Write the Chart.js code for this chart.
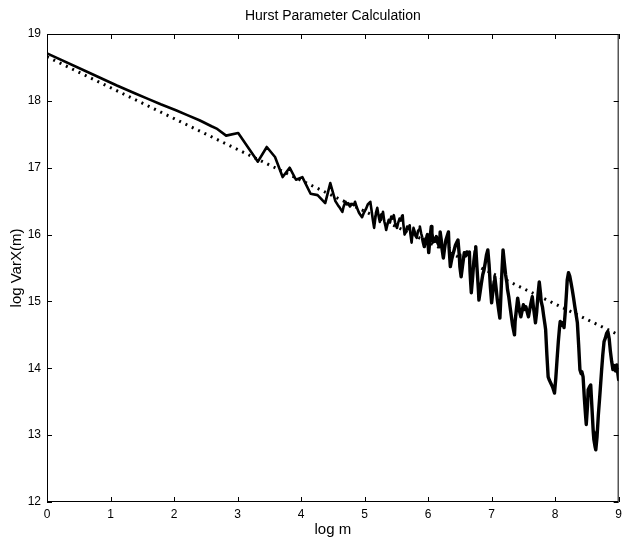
<!DOCTYPE html>
<html>
<head>
<meta charset="utf-8">
<script src="https://cdn.jsdelivr.net/npm/chart.js@4/dist/chart.umd.min.js"></script>
<style>
  html, body { margin: 0; padding: 0; background: #fff; }
  #wrap { width: 627px; height: 542px; }
</style>
</head>
<body>
<div id="wrap"><canvas id="hurst" width="627" height="542"></canvas></div>
<script>
// log m vs log of the aggregated variance
const logM = [
  0, 0.69, 1.10, 1.39, 1.59, 1.79, 2.03, 2.20, 2.40, 2.59, 2.68, 2.82, 3.01,
  3.32, 3.46, 3.59, 3.71, 3.82, 3.92, 4.02, 4.15, 4.26, 4.38, 4.46,
  4.54, 4.58, 4.61, 4.65, 4.67, 4.70, 4.72, 4.74, 4.77, 4.80, 4.83, 4.85,
  4.88, 4.91, 4.93, 4.96, 4.99, 5.02, 5.05, 5.07, 5.09, 5.11, 5.13, 5.15,
  5.17, 5.18, 5.20, 5.22, 5.24, 5.26, 5.27, 5.29, 5.31, 5.33, 5.34, 5.36,
  5.38, 5.40, 5.42, 5.44, 5.46, 5.48, 5.50, 5.51, 5.53, 5.55, 5.57, 5.59,
  5.60, 5.61, 5.63, 5.65, 5.67, 5.69, 5.71, 5.72, 5.74, 5.75, 5.77, 5.79,
  5.80, 5.82, 5.84, 5.86, 5.87, 5.89, 5.91, 5.92, 5.94, 5.96, 5.98, 5.99,
  6.00, 6.01, 6.03, 6.05, 6.06, 6.08, 6.10, 6.11, 6.13, 6.15, 6.17, 6.18,
  6.19, 6.21, 6.22, 6.24, 6.26, 6.28, 6.30, 6.32, 6.33, 6.35, 6.37, 6.39,
  6.41, 6.43, 6.45, 6.47, 6.49, 6.50, 6.52, 6.54, 6.56, 6.57, 6.59, 6.61,
  6.63, 6.65, 6.66, 6.67, 6.68, 6.70, 6.72, 6.74, 6.75, 6.77, 6.79, 6.80,
  6.82, 6.84, 6.86, 6.88, 6.90, 6.92, 6.94, 6.96, 6.98, 7.00, 7.02, 7.04,
  7.05, 7.07, 7.09, 7.11, 7.13, 7.14, 7.16, 7.18, 7.20, 7.22, 7.24, 7.25,
  7.27, 7.29, 7.31, 7.33, 7.36, 7.37, 7.39, 7.41, 7.43, 7.44, 7.46, 7.48,
  7.50, 7.52, 7.54, 7.56, 7.58, 7.60, 7.62, 7.64, 7.66, 7.68, 7.69, 7.71,
  7.73, 7.75, 7.77, 7.78, 7.80, 7.82, 7.84, 7.85, 7.87, 7.89, 7.91, 7.93,
  7.96, 7.98, 7.99, 8.01, 8.03, 8.05, 8.07, 8.08, 8.10, 8.12, 8.14, 8.16,
  8.18, 8.19, 8.21, 8.23, 8.25, 8.27, 8.29, 8.31, 8.33, 8.35, 8.37, 8.39,
  8.41, 8.42, 8.44, 8.46, 8.48, 8.49, 8.51, 8.52, 8.54, 8.56, 8.58, 8.60,
  8.61, 8.63, 8.64, 8.66, 8.68, 8.70, 8.71, 8.73, 8.75, 8.77, 8.79, 8.81,
  8.83, 8.85, 8.87, 8.89, 8.91, 8.93, 8.95, 8.97, 8.99, 9.00
];
const logVar = [
  18.71, 18.41, 18.23, 18.11, 18.03, 17.95, 17.86, 17.79, 17.71, 17.62, 17.58, 17.48, 17.52,
  17.09, 17.31, 17.16, 16.86, 17.00, 16.82, 16.86, 16.61, 16.59, 16.47, 16.77,
  16.50, 16.44, 16.40, 16.34, 16.42, 16.49, 16.45, 16.47, 16.42, 16.46, 16.44, 16.49,
  16.40, 16.33, 16.30, 16.26, 16.33, 16.38, 16.45, 16.47, 16.49, 16.36, 16.22, 16.10,
  16.25, 16.33, 16.40, 16.28, 16.19, 16.30, 16.26, 16.34, 16.20, 16.12, 16.07, 16.15,
  16.22, 16.18, 16.27, 16.24, 16.29, 16.18, 16.12, 16.10, 16.18, 16.24, 16.21, 16.28,
  16.29, 16.16, 16.00, 16.05, 16.12, 16.08, 16.14, 16.02, 15.88, 15.98, 16.10, 16.04,
  15.98, 15.95, 16.05, 16.08, 16.12, 16.02, 15.95, 15.90, 15.82, 15.92, 15.97, 16.00,
  15.85, 15.73, 15.95, 16.12, 16.02, 15.89, 15.94, 15.90, 15.97, 15.88, 15.84, 15.82,
  16.04, 15.90, 15.78, 15.65, 15.80, 15.92, 15.98, 16.04, 15.80, 15.52, 15.62, 15.70,
  15.77, 15.84, 15.88, 15.92, 15.70, 15.52, 15.37, 15.52, 15.66, 15.73, 15.68, 15.74,
  15.70, 15.74, 15.45, 15.28, 15.13, 15.35, 15.60, 15.75, 15.82, 15.50, 15.20, 15.02,
  15.15, 15.28, 15.40, 15.47, 15.58, 15.70, 15.77, 15.55, 15.22, 14.98, 15.15, 15.30,
  15.37, 15.20, 15.02, 14.88, 14.75, 14.95, 15.40, 15.77, 15.58, 15.40, 15.28, 15.18,
  15.07, 14.92, 14.78, 14.64, 14.50, 14.70, 14.88, 15.05, 14.92, 14.85, 14.77, 14.86,
  14.95, 14.88, 14.92, 14.84, 14.77, 14.88, 14.98, 15.07, 14.90, 14.76, 14.68, 14.85,
  15.10, 15.29, 15.12, 15.00, 14.92, 14.78, 14.65, 14.58, 14.20, 13.87, 13.82, 13.78,
  13.72, 13.66, 13.63, 13.85, 14.13, 14.40, 14.62, 14.70, 14.64, 14.68, 14.61, 14.85,
  15.15, 15.32, 15.43, 15.38, 15.28, 15.17, 15.05, 14.92, 14.80, 14.68, 14.35, 13.98,
  13.92, 13.95, 13.87, 13.55, 13.28, 13.16, 13.45, 13.68, 13.72, 13.75, 13.40, 13.05,
  12.93, 12.82, 12.78, 12.98, 13.30, 13.55, 13.68, 13.95, 14.20, 14.40, 14.45, 14.52,
  14.55, 14.45, 14.25, 14.10, 13.98, 14.04, 13.96, 14.05, 13.90, 13.83
];

// least-squares fit line end points
const fitX = [0, 9];
const fitY = [18.66, 14.50];

const xTicks = [0, 1, 2, 3, 4, 5, 6, 7, 8, 9];
const yTicks = [12, 13, 14, 15, 16, 17, 18, 19];

const FONT = '"Liberation Sans", Arial, Helvetica, sans-serif';

// frame box with inward ticks on all four sides, plus the title
const matlabBox = {
  id: 'matlabBox',
  afterDraw(chart) {
    const ctx = chart.ctx;
    const a = chart.chartArea;
    const xs = chart.scales.x, ys = chart.scales.y;
    const len = 5;
    ctx.save();
    ctx.strokeStyle = '#000';
    ctx.lineWidth = 1;
    ctx.strokeRect(a.left + 0.5, a.top + 0.5, a.right - a.left - 1, a.bottom - a.top - 1);
    ctx.beginPath();
    xTicks.forEach(v => {
      const px = Math.round(xs.getPixelForValue(v)) + 0.5;
      ctx.moveTo(px, a.bottom); ctx.lineTo(px, a.bottom - len);
      ctx.moveTo(px, a.top); ctx.lineTo(px, a.top + len);
    });
    yTicks.forEach(v => {
      const py = Math.round(ys.getPixelForValue(v)) + 0.5;
      ctx.moveTo(a.left, py); ctx.lineTo(a.left + len, py);
      ctx.moveTo(a.right, py); ctx.lineTo(a.right - len, py);
    });
    ctx.stroke();
    ctx.fillStyle = '#000';
    ctx.font = '14px ' + FONT;
    ctx.textAlign = 'center';
    ctx.textBaseline = 'middle';
    ctx.fillText('Hurst Parameter Calculation', (a.left + a.right) / 2, 16);
    ctx.restore();
  }
};

const ctx = document.getElementById('hurst').getContext('2d');
new Chart(ctx, {
  type: 'line',
  data: {
    datasets: [
      {
        label: 'log VarX(m)',
        data: logM.map((x, i) => ({ x: x, y: logVar[i] })),
        borderColor: '#000',
        borderWidth: 2.6,
        // the noisy tail of the curve is drawn a little heavier
        segment: { borderWidth: s => (s.p0.parsed.x >= 5.9 ? 3.4 : 2.6) },
        borderJoinStyle: 'round',
        pointRadius: 0,
        tension: 0,
        order: 1
      },
      {
        label: 'fit',
        data: fitX.map((x, i) => ({ x: x, y: fitY[i] })),
        borderColor: '#000',
        borderWidth: 3,
        borderDash: [2, 5],
        borderCapStyle: 'butt',
        pointRadius: 0,
        order: 2
      }
    ]
  },
  options: {
    responsive: false,
    animation: false,
    layout: { padding: { top: 34, right: 3, left: 0, bottom: 0 } },
    plugins: {
      legend: { display: false },
      title: { display: false },
      tooltip: { enabled: false }
    },
    scales: {
      x: {
        type: 'linear',
        min: 0, max: 9,
        afterBuildTicks: s => { s.ticks = xTicks.map(v => ({ value: v })); },
        afterFit: s => { s.height = 40; },
        grid: { display: false, drawTicks: false },
        border: { display: false },
        ticks: { color: '#000', padding: 5, font: { family: FONT, size: 12 } },
        title: {
          display: true, text: 'log m', color: '#000',
          font: { family: FONT, size: 15 }, padding: { top: 0, bottom: 3 }
        }
      },
      y: {
        type: 'linear',
        min: 12, max: 19,
        afterBuildTicks: s => { s.ticks = yTicks.map(v => ({ value: v })); },
        afterFit: s => { s.width = 47; },
        grid: { display: false, drawTicks: false },
        border: { display: false },
        ticks: { color: '#000', padding: 6, font: { family: FONT, size: 12 } },
        title: {
          display: true, text: 'log VarX(m)', color: '#000',
          font: { family: FONT, size: 15 }, padding: { top: 8, bottom: 0 }
        }
      }
    }
  },
  plugins: [matlabBox]
});
</script>
</body>
</html>
